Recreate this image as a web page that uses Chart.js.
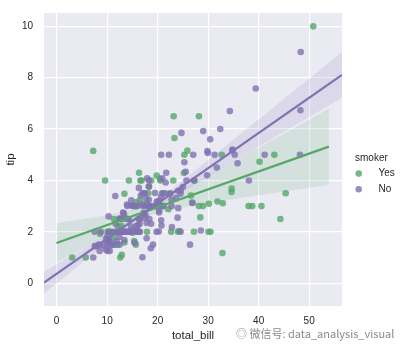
<!DOCTYPE html>
<html>
<head>
<meta charset="utf-8">
<script src="https://cdn.jsdelivr.net/npm/chart.js@4/dist/chart.umd.min.js"></script>
<style>
  html, body { margin: 0; padding: 0; background: #ffffff; }
  #wrap { position: relative; width: 406px; height: 348px; }
  #wm { position: absolute; left: 236px; top: 325px; font: 11px "Noto Sans CJK SC", "Liberation Sans", sans-serif; color: #8a8a8a; white-space: nowrap; }
</style>
</head>
<body>
<div id="wrap">
  <canvas id="c" width="406" height="348"></canvas>
  <div id="wm">◎ 微信号: data_analysis_visual</div>
</div>
<script>
// ---- data (tips dataset: total_bill vs tip, split by smoker) ----
const smokerLevels = ["Yes", "No"];
const yesBill = [38.01,11.24,20.29,13.81,11.02,18.29,3.07,15.01,26.86,25.28,17.92,19.44,32.68,28.97,5.75,16.32,40.17,27.28,12.03,21.01,11.35,15.38,44.3,22.42,15.36,20.49,25.21,14.31,16.0,17.51,10.59,10.63,50.81,15.81,7.25,31.85,16.82,32.9,17.89,14.48,9.6,34.63,34.65,23.33,45.35,23.17,40.55,20.9,30.46,18.15,23.1,15.69,19.81,28.44,15.48,16.58,10.34,43.11,13.0,13.51,18.71,12.74,13.0,16.4,20.53,16.47,26.59,38.73,24.27,12.76,30.06,25.89,13.27,28.17,12.9,28.15,11.59,7.74,30.14,12.16,13.42,8.58,13.42,16.27,10.09,22.12,24.01,15.69,15.53,12.6,32.83,27.18,22.67];
const yesTip = [3.0,1.76,3.21,2.0,1.98,3.76,1.0,2.09,3.14,5.0,3.08,3.0,5.0,3.0,1.0,4.3,4.73,4.0,1.5,3.0,2.5,3.0,2.5,3.48,1.64,4.06,4.29,4.0,2.0,3.0,1.61,2.0,10.0,3.16,5.15,3.18,4.0,3.11,2.0,2.0,4.0,3.55,3.68,5.65,3.5,6.5,3.0,3.5,2.0,3.5,4.0,1.5,4.19,2.56,2.02,4.0,2.0,5.0,2.0,2.0,4.0,2.01,2.0,2.5,4.0,3.23,3.41,3.0,2.03,2.23,2.0,5.16,2.5,6.5,1.1,3.0,1.5,1.44,3.09,2.2,3.48,1.92,1.58,2.5,2.0,2.88,2.0,3.0,3.0,1.0,1.17,2.0,2.0];
const noBill = [16.99,10.34,21.01,23.68,24.59,25.29,8.77,26.88,15.04,14.78,10.27,35.26,15.42,18.43,14.83,21.58,10.33,16.29,16.97,20.65,17.92,20.29,15.77,39.42,19.82,17.81,13.37,12.69,21.7,19.65,9.55,18.35,15.06,20.69,17.78,24.06,16.31,16.93,18.69,31.27,16.04,17.46,13.94,9.68,30.4,18.29,22.23,32.4,28.55,18.04,12.54,10.29,34.81,9.94,25.56,19.49,26.41,48.27,17.59,20.08,16.45,20.23,12.02,17.07,14.73,10.51,27.2,22.76,17.29,16.66,10.07,15.98,34.83,13.03,18.28,24.71,21.16,22.49,22.75,12.46,20.92,18.24,14.0,7.25,38.07,23.95,25.71,17.31,29.93,10.65,12.43,24.08,11.69,13.42,14.26,15.95,12.48,29.8,8.52,14.52,11.38,22.82,19.08,20.27,11.17,12.26,18.26,8.51,10.33,14.15,13.16,17.47,34.3,41.19,27.05,16.43,8.35,18.64,11.87,9.78,7.51,14.07,13.13,17.26,24.55,19.77,29.85,48.17,25.0,13.39,16.49,21.5,12.66,16.21,13.81,24.52,20.76,31.71,20.69,7.56,48.33,15.98,20.45,13.28,11.61,10.77,10.07,35.83,29.03,17.82,18.78];
const noTip = [1.01,1.66,3.5,3.31,3.61,4.71,2.0,3.12,1.96,3.23,1.71,5.0,1.57,3.0,3.02,3.92,1.67,3.71,3.5,3.35,4.08,2.75,2.23,7.58,3.18,2.34,2.0,2.0,4.3,3.0,1.45,2.5,3.0,2.45,3.27,3.6,2.0,3.07,2.31,5.0,2.24,2.54,3.06,1.32,5.6,3.0,5.0,6.0,2.05,3.0,2.5,2.6,5.2,1.56,4.34,3.51,1.5,6.73,2.64,3.15,2.47,2.01,1.97,3.0,2.2,1.25,4.0,3.0,2.71,3.4,1.83,2.03,5.17,2.0,4.0,5.85,3.0,3.5,3.25,1.5,4.08,3.76,3.0,1.0,4.0,2.55,4.0,3.5,5.07,1.5,1.8,2.92,2.31,1.68,2.5,2.0,2.52,4.2,1.48,2.0,2.0,2.18,1.5,2.83,1.5,2.0,3.25,1.25,2.0,2.0,2.75,3.5,6.7,5.0,5.0,2.3,1.5,1.36,1.63,1.73,2.0,2.5,2.0,2.74,2.0,2.0,5.14,5.0,3.75,2.61,2.0,3.5,2.5,2.0,2.0,3.48,2.24,4.5,5.0,1.44,9.0,3.0,3.0,2.72,3.39,1.47,1.25,4.67,5.92,1.75,3.0];
const xTicks = [0, 10, 20, 30, 40, 50];
const yTicks = [0, 2, 4, 6, 8, 10];

// ---- axis extents & regression line extents ----
const X_MIN = -2.5, X_MAX = 56.5, Y_MIN = -0.89, Y_MAX = 10.52;
const YES_LINE = [-0.03, 53.9];
const NO_LINE = [X_MIN, X_MAX];

const GREEN = '85,168,104', PURPLE = '129,114,178';

// OLS fit with heteroscedasticity-robust (sandwich) band, approximating bootstrap CI
function fit(xs, ys, range) {
  const n = xs.length;
  let sx = 0, sy = 0, sxx = 0, sxy = 0;
  for (let i = 0; i < n; i++) { sx += xs[i]; sy += ys[i]; sxx += xs[i]*xs[i]; sxy += xs[i]*ys[i]; }
  const det = n*sxx - sx*sx;
  const b = (n*sxy - sx*sy) / det;
  const a = (sy - b*sx) / n;
  const A = [[sxx/det, -sx/det], [-sx/det, n/det]];
  let m00 = 0, m01 = 0, m11 = 0;
  for (let i = 0; i < n; i++) {
    const e = ys[i] - (a + b*xs[i]); const e2 = e*e;
    m00 += e2; m01 += e2*xs[i]; m11 += e2*xs[i]*xs[i];
  }
  const M = [[m00, m01], [m01, m11]];
  const mul = (P, Q) => [[P[0][0]*Q[0][0]+P[0][1]*Q[1][0], P[0][0]*Q[0][1]+P[0][1]*Q[1][1]],
                         [P[1][0]*Q[0][0]+P[1][1]*Q[1][0], P[1][0]*Q[0][1]+P[1][1]*Q[1][1]]];
  const V = mul(mul(A, M), A);
  const k = n/(n-2);
  const line = [], upper = [], lower = [];
  const steps = 100;
  for (let j = 0; j <= steps; j++) {
    const x = range[0] + (range[1]-range[0]) * j/steps;
    const yh = a + b*x;
    const se = Math.sqrt(k*(V[0][0] + 2*x*V[0][1] + x*x*V[1][1]));
    upper.push({x, y: yh + 1.96*se});
    lower.push({x, y: yh - 1.96*se});
  }
  line.push({x: range[0], y: a + b*range[0]}, {x: range[1], y: a + b*range[1]});
  return {line, upper, lower};
}

const yesFit = fit(yesBill, yesTip, YES_LINE);
const noFit = fit(noBill, noTip, NO_LINE);
const pts = (xs, ys) => xs.map((x, i) => ({x, y: ys[i]}));

const datasets = [
  { label: 'Yes', data: pts(yesBill, yesTip), order: 8, pointRadius: 3.3, pointBorderWidth: 0,
    backgroundColor: `rgba(${GREEN},0.8)`, borderColor: `rgba(${GREEN},0.8)`, showLine: false },
  { label: 'yes-up', data: yesFit.upper, order: 7, showLine: true, pointRadius: 0, borderWidth: 0, fill: false },
  { label: 'yes-lo', data: yesFit.lower, order: 6, showLine: true, pointRadius: 0, borderWidth: 0,
    fill: {target: 1}, backgroundColor: `rgba(${GREEN},0.15)` },
  { label: 'No', data: pts(noBill, noTip), order: 5, pointRadius: 3.3, pointBorderWidth: 0,
    backgroundColor: `rgba(${PURPLE},0.8)`, borderColor: `rgba(${PURPLE},0.8)`, showLine: false },
  { label: 'no-up', data: noFit.upper, order: 4, showLine: true, pointRadius: 0, borderWidth: 0, fill: false },
  { label: 'no-lo', data: noFit.lower, order: 3, showLine: true, pointRadius: 0, borderWidth: 0,
    fill: {target: 4}, backgroundColor: `rgba(${PURPLE},0.15)` },
  { label: 'yes-fit', data: yesFit.line, order: 2, showLine: true, pointRadius: 0, borderWidth: 2.2,
    borderColor: `rgb(${GREEN})`, fill: false },
  { label: 'no-fit', data: noFit.line, order: 1, showLine: true, pointRadius: 0, borderWidth: 2.2,
    borderColor: `rgb(${PURPLE})`, fill: false },
];

const FONT = '"Liberation Sans", Arial, sans-serif';
const TXT = '#262626';

const bgPlugin = {
  id: 'bg',
  beforeDraw(chart) {
    const {ctx, chartArea: a} = chart;
    ctx.save();
    ctx.fillStyle = '#EAEAF2';
    ctx.fillRect(a.left, a.top, a.right - a.left, a.bottom - a.top);
    ctx.restore();
  }
};

const legendPlugin = {
  id: 'lg',
  afterDraw(chart) {
    const {ctx} = chart;
    const a = chart.chartArea;
    const x0 = a.right + 13;
    ctx.save();
    ctx.fillStyle = TXT;
    ctx.font = `10px ${FONT}`;
    ctx.textBaseline = 'middle';
    ctx.textAlign = 'left';
    ctx.fillText('smoker', x0, 158);
    const cols = [GREEN, PURPLE];
    smokerLevels.forEach((lab, i) => {
      const y = 173.6 + i*15.7;
      ctx.beginPath();
      ctx.fillStyle = `rgba(${cols[i]},0.8)`;
      ctx.arc(x0 + 3.7, y, 3.3, 0, Math.PI*2);
      ctx.fill();
      ctx.fillStyle = TXT;
      ctx.fillText(lab, x0 + 23.5, y);
    });
    ctx.restore();
  }
};

new Chart(document.getElementById('c'), {
  type: 'scatter',
  data: { datasets },
  options: {
    responsive: false,
    animation: false,
    devicePixelRatio: 1,
    layout: { padding: { left: 0, top: 13, right: 64, bottom: 0 } },
    plugins: { legend: { display: false }, tooltip: { enabled: false } },
    scales: {
      x: {
        type: 'linear', min: X_MIN, max: X_MAX,
        afterBuildTicks: s => { s.ticks = xTicks.map(v => ({value: v})); },
        afterFit: s => { s.height = 42; s.paddingLeft = 0; s.paddingRight = 0; },
        grid: { color: '#ffffff', lineWidth: 1.2, drawTicks: false },
        border: { display: false },
        ticks: { padding: 9, color: TXT, font: { family: FONT, size: 10 }, maxRotation: 0 },
        title: { display: true, text: 'total_bill', color: TXT, font: { family: FONT, size: 11.5 }, padding: { top: 0, bottom: 5 } }
      },
      y: {
        type: 'linear', min: Y_MIN, max: Y_MAX,
        afterBuildTicks: s => { s.ticks = yTicks.map(v => ({value: v})); },
        afterFit: s => { s.width = 44; s.paddingTop = 0; s.paddingBottom = 0; },
        grid: { color: '#ffffff', lineWidth: 1.2, drawTicks: false },
        border: { display: false },
        ticks: { padding: 11, color: TXT, font: { family: FONT, size: 10 } },
        title: { display: true, text: 'tip', color: TXT, font: { family: FONT, size: 11.5 }, padding: { top: 4, bottom: 0 } }
      }
    }
  },
  plugins: [bgPlugin, legendPlugin]
});
</script>
</body>
</html>
